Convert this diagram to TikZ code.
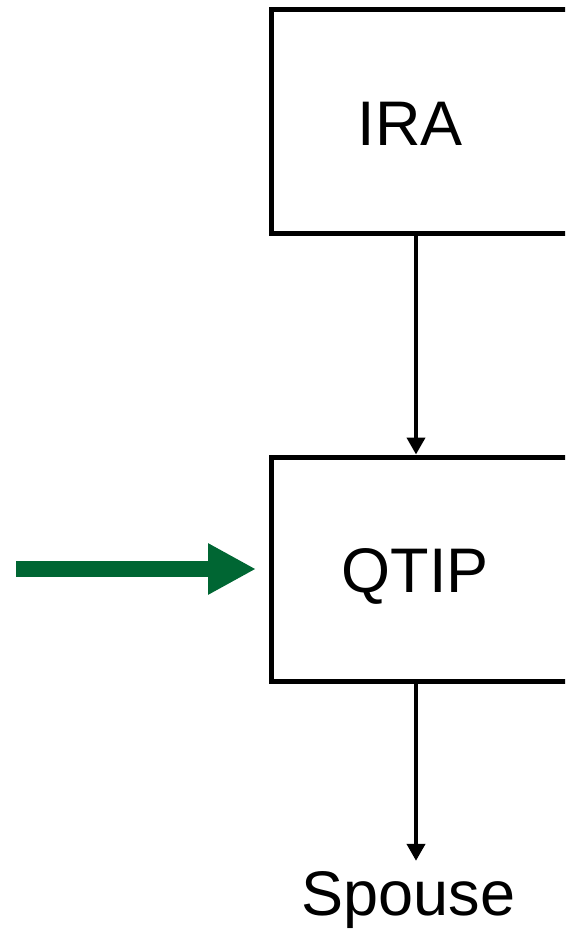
\documentclass[tikz,border=0pt]{standalone}
\usepackage{fontspec}
\setmainfont{Liberation Sans}
\usetikzlibrary{arrows.meta,calc}
\definecolor{arrowgreen}{RGB}{0,102,51}
\tikzset{
  boxnode/.style={draw=black, line width=5pt, minimum width=340pt, minimum height=224pt, inner sep=0pt, anchor=north west},
  bigtext/.style={font=\fontsize{63}{76}\selectfont, inner sep=0pt, anchor=base},
  flowarrow/.style={draw=black, line width=4pt, -{Triangle[width=18pt,length=17pt]}},
  greenarrow/.style={draw=arrowgreen, line width=16pt, -{Triangle[width=48pt,length=48pt]}}
}
\begin{document}
\begin{tikzpicture}[x=1pt,y=-1pt]
\useasboundingbox (0,0) rectangle (565,929);
\clip (0,0) rectangle (565,929);
\node[boxnode] (irabox) at (268.5,6.5) {};
\node[boxnode] (qtipbox) at (268.5,454.5) {};
\node[bigtext] (iratext) at (410,145) {IRA};
\node[bigtext] (qtiptext) at (415,592) {QTIP};
\node[bigtext] (spouse) at (408.5,915) {Spouse};
\coordinate (greenstart) at (16,569);
\draw[flowarrow] (irabox.south -| 416,0) -- (qtipbox.north -| 416,0);
\draw[flowarrow, shorten >=10pt] (qtipbox.south -| 416,0) -- (spouse.north -| 416,0);
\draw[greenarrow, shorten >=12.5pt] (greenstart) -- (greenstart -| qtipbox.west);
\end{tikzpicture}
\end{document}
